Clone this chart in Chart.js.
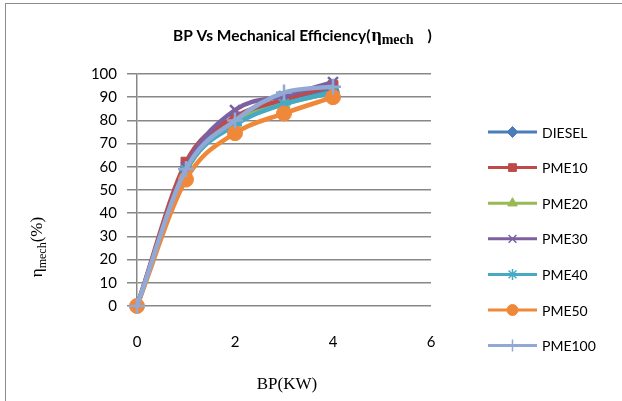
<!DOCTYPE html>
<html>
<head>
<meta charset="utf-8">
<script src="https://cdn.jsdelivr.net/npm/chart.js@4/dist/chart.umd.min.js"></script>
<style>
  html, body { margin: 0; padding: 0; background: #fff; }
  #wrap { position: absolute; left: 0; top: 0; width: 622px; height: 401px; }
</style>
</head>
<body>
<div id="wrap"><canvas id="c" width="622" height="401"></canvas></div>
<script>
// values
const bp = [0, 1, 2, 3, 4];
const diesel = [0, 60, 80, 88.5, 93];
const pme10 = [0, 62, 81.5, 89, 95];
const pme20 = [0, 58, 79, 87, 92];
const pme30 = [0, 60, 84.5, 90.5, 96.5];
const pme40 = [0, 58.5, 78, 87, 92];
const pme50 = [0, 54.5, 74.5, 83, 90];
const pme100 = [0, 59, 80, 92, 94.5];

const seriesNames = ['DIESEL', 'PME10', 'PME20', 'PME30', 'PME40', 'PME50', 'PME100'];
const seriesValues = [diesel, pme10, pme20, pme30, pme40, pme50, pme100];
const seriesColors = ['#4A7EBB', '#BE4B48', '#98B954', '#7D60A0', '#46AAC5', '#F0883A', '#91A9D4'];
const markers = ['rectRot', 'rect', 'triangle', 'crossRot', 'star', 'circle', 'cross'];
const markerSize = [6, 7, 7, 7, 7, 7.5, 8];

const yTicks = [0, 10, 20, 30, 40, 50, 60, 70, 80, 90, 100];
const xTicks = [0, 2, 4, 6];

const GRID = '#878787';
const SANS = "Lato, 'Open Sans', sans-serif";
const SERIF = "'Liberation Serif', 'DejaVu Serif', serif";

const datasets = seriesNames.map((name, i) => ({
    label: name,
    data: bp.map((x, j) => ({ x, y: seriesValues[i][j] })),
    borderColor: seriesColors[i],
    backgroundColor: seriesColors[i],
    pointBorderColor: seriesColors[i],
    pointBackgroundColor: seriesColors[i],
    pointStyle: markers[i],
    pointRadius: markerSize[i],
    pointBorderWidth: (markers[i] === 'crossRot' || markers[i] === 'star' || markers[i] === 'cross') ? 2.5 : 1,
    borderWidth: 4.5,
    cubicInterpolationMode: 'monotone',
    clip: false,
    order: seriesNames.length - i
}));

// title, axis titles, legend and frame are drawn here
const decor = {
    id: 'decor',
    afterDraw(chart) {
        const ctx = chart.ctx;
        ctx.save();

        // outer frame
        ctx.strokeStyle = '#8c8c8c';
        ctx.lineWidth = 1;
        ctx.strokeRect(5.5, 3.5, 640, 420);

        // title
        ctx.fillStyle = '#000';
        ctx.textBaseline = 'alphabetic';
        ctx.textAlign = 'left';
        let tx = 173, ty = 41;
        ctx.font = "bold 15.5px " + SANS;
        const t1 = 'BP Vs Mechanical Efficiency(';
        ctx.fillText(t1, tx, ty);
        tx += ctx.measureText(t1).width + 1;
        ctx.font = "bold 18px " + SERIF;
        ctx.fillText('\u03b7', tx, ty);
        tx += ctx.measureText('\u03b7').width;
        ctx.font = "bold 14px " + SERIF;
        ctx.fillText('mech', tx, ty + 3);
        tx += ctx.measureText('mech').width + 14;
        ctx.font = "bold 15.5px " + SANS;
        ctx.fillText(')', tx, ty);

        // x axis title
        ctx.font = "17px " + SERIF;
        ctx.textAlign = 'center';
        ctx.fillText('BP(KW)', 287, 389);

        // y axis title
        ctx.save();
        ctx.translate(42, 247);
        ctx.rotate(-Math.PI / 2);
        ctx.textAlign = 'left';
        ctx.font = "17px " + SERIF;
        const w1 = ctx.measureText('\u03b7').width;
        ctx.font = "12px " + SERIF;
        const w2 = ctx.measureText('mech').width;
        ctx.font = "17px " + SERIF;
        const w3 = ctx.measureText('(%)').width;
        let lx = -(w1 + w2 + w3) / 2;
        ctx.fillText('\u03b7', lx, 0);
        lx += w1;
        ctx.font = "12px " + SERIF;
        ctx.fillText('mech', lx, 4);
        lx += w2;
        ctx.font = "17px " + SERIF;
        ctx.fillText('(%)', lx, 0);
        ctx.restore();

        // legend
        ctx.font = "14px " + SANS;
        ctx.textAlign = 'left';
        ctx.textBaseline = 'middle';
        chart.data.datasets.forEach((ds, i) => {
            const y = 132 + i * 35.6;
            ctx.strokeStyle = ds.borderColor;
            ctx.lineWidth = 3;
            ctx.beginPath();
            ctx.moveTo(488, y);
            ctx.lineTo(537, y);
            ctx.stroke();
            ctx.fillStyle = ds.borderColor;
            const thin = ['crossRot', 'star', 'cross'].includes(ds.pointStyle);
            ctx.lineWidth = thin ? 1.5 : 1;
            Chart.helpers.drawPoint(ctx, {
                pointStyle: ds.pointStyle,
                radius: ds.pointStyle === 'cross' ? 6 : 5.5,
                rotation: 0,
                borderWidth: ctx.lineWidth
            }, 512.5, y);
            ctx.fillStyle = '#000';
            ctx.fillText(ds.label, 542, y + 1);
        });

        ctx.restore();
    }
};

new Chart(document.getElementById('c'), {
    type: 'line',
    data: { datasets },
    options: {
        responsive: false,
        animation: false,
        events: [],
        layout: { padding: { left: 0, top: 74, right: 191, bottom: 0 } },
        plugins: {
            legend: { display: false },
            tooltip: { enabled: false },
            title: { display: false }
        },
        scales: {
            x: {
                type: 'linear',
                min: 0,
                max: 6,
                afterFit: s => { s.height = 95; },
                afterBuildTicks: s => { s.ticks = xTicks.map(v => ({ value: v })); },
                grid: { display: false, drawTicks: false },
                border: { display: false },
                ticks: { color: '#000', padding: 27, font: { family: SANS, size: 15 } }
            },
            y: {
                min: 0,
                max: 100,
                afterFit: s => { s.width = 137; },
                afterBuildTicks: s => { s.ticks = yTicks.map(v => ({ value: v })); },
                grid: { color: GRID, lineWidth: 1.5, tickLength: 10, tickColor: GRID },
                border: { color: GRID, width: 1.5 },
                ticks: { color: '#000', padding: 10, font: { family: SANS, size: 15 } }
            }
        }
    },
    plugins: [decor]
});
</script>
</body>
</html>
